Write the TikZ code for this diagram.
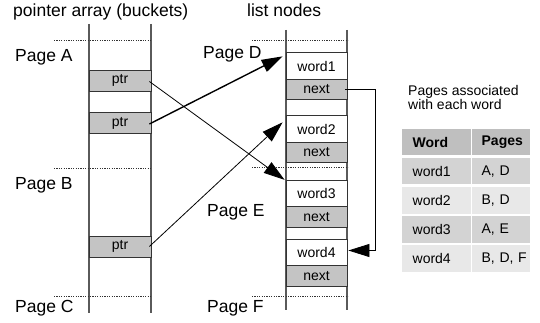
\documentclass[tikz,border=0pt]{standalone}
\usepackage{fontspec}
\setmainfont{Liberation Sans}
\usetikzlibrary{arrows.meta,calc}

\definecolor{colline}{HTML}{5A5A5A}
\definecolor{boxline}{HTML}{333333}
\definecolor{boxfill}{HTML}{C4C4C4}
\definecolor{hdrfill}{HTML}{BFBFBF}
\definecolor{rowdark}{HTML}{D3D3D3}
\definecolor{rowlight}{HTML}{E8E8E8}

\begin{document}
\begin{tikzpicture}[x=1pt,y=-1pt,
  bigtext/.style={font=\fontsize{17.5}{20}\selectfont, inner sep=0pt, anchor=base west},
  smalltext/.style={font=\fontsize{14}{16}\selectfont},
  column/.style={draw=colline, line width=1.1pt},
  pageline/.style={draw=black!80, line width=0.8pt, dash pattern=on 1.2pt off 1.2pt},
  slot/.style={draw=boxline, line width=0.8pt, smalltext, inner sep=0pt, minimum width=#1},
  ptrbox/.style={slot=62pt, fill=boxfill, minimum height=21pt},
  wordbox/.style={slot=61pt, fill=white, minimum height=26.5pt},
  nextbox/.style={slot=61pt, fill=boxfill, minimum height=20.5pt},
  bigtip/.style={-{Triangle[length=21pt,width=13pt]}},
  link/.style={bigtip, draw=black, line width=0.8pt},
  boldlink/.style={bigtip, draw=black, line width=1.4pt},
  cell/.style={draw=white, line width=1.3pt, smalltext, anchor=north west,
    minimum height=27.8pt, align=left, inner ysep=0pt},
  colA/.style={cell, minimum width=70pt, text width=48pt, inner xsep=11pt},
  colB/.style={cell, minimum width=59pt, text width=39pt, inner xsep=10pt}
]
\useasboundingbox (0,0) rectangle (540,323);

% column headings
\node[bigtext] (hptr) at (13,16.5) {pointer array (buckets)};
\node[bigtext] (hlist) at (247,16.5) {list nodes};

% column borders
\coordinate (la) at (89,24);  \coordinate (lb) at (89,313);
\coordinate (ra) at (151,24); \coordinate (rb) at (151,313);
\coordinate (lc) at (286,30); \coordinate (ld) at (286,310);
\coordinate (rc) at (347,30); \coordinate (rd) at (347,310);
\draw[column] (la) -- (lb);
\draw[column] (ra) -- (rb);
\draw[column] (lc) -- (ld);
\draw[column] (rc) -- (rd);

% page boundaries
\foreach \yy in {40,168,296}{
  \draw[pageline] (54,\yy) -- (151,\yy);
}
\foreach \yy in {40,167,296}{
  \draw[pageline] (252,\yy) -- (348,\yy);
}
\node[bigtext] (pA) at (15,61.7) {Page A};
\node[bigtext] (pB) at (15,189) {Page B};
\node[bigtext] (pC) at (15,312.5) {Page C};
\node[bigtext] (pD) at (203,58.3) {Page D};
\node[bigtext] (pE) at (207,216) {Page E};
\node[bigtext] (pF) at (207,312.5) {Page F};

% bucket pointers
\node[ptrbox] (p1) at (120,80.5) {ptr};
\node[ptrbox] (p2) at (120,123) {ptr};
\node[ptrbox] (p3) at (120,246.5) {ptr};

% list nodes
\node[wordbox] (w1) at (316.5,66) {word1};
\node[nextbox] (n1) at (316.5,89.3) {next};
\node[wordbox] (w2) at (316.5,129) {word2};
\node[nextbox] (n2) at (316.5,152.5) {next};
\node[wordbox] (w3) at (316.5,193.5) {word3};
\node[nextbox] (n3) at (316.5,217) {next};
\node[wordbox] (w4) at (316.5,252.5) {word4};
\node[nextbox] (n4) at (316.5,276) {next};

% pointers into the lists
\draw[link] ($(p1.east)+(-2,1)$) -- ($(w3.north west)+(-1,0)$);
\draw[boldlink] ($(p2.east)+(-2,1)$) -- ($(w1.north west)+(-3,4)$);
\draw[link] ($(p3.east)+(-2,0)$) -- ($(w2.north west)+(-3,7)$);

% chain from word1 to word4
\coordinate (turn) at (375,0);
\draw[link] ($(n1.east)+(-2,0)$) -- (n1.east -| turn) -- ($(turn |- w4.east)+(0,-2)$) -- ($(w4.east)+(1,-2)$);

% table of pages per word
\node[font=\fontsize{14}{14.5}\selectfont, anchor=base west, align=left, inner sep=0pt] (cap) at (408,110)
  {Pages associated\\with each word};
\node[colA, fill=hdrfill, font=\fontsize{14}{16}\selectfont\bfseries] (t0a) at (401,127.5) {Word};
\node[colB, fill=hdrfill, font=\fontsize{14}{16}\selectfont\bfseries] (t0b) at (471,127.5) {Pages};
\node[colA, fill=rowdark]  (t1a) at (t0a.south west) {word1};
\node[colB, fill=rowdark]  (t1b) at (t0b.south west) {A, D};
\node[colA, fill=rowlight] (t2a) at (t1a.south west) {word2};
\node[colB, fill=rowlight] (t2b) at (t1b.south west) {B, D};
\node[colA, fill=rowdark]  (t3a) at (t2a.south west) {word3};
\node[colB, fill=rowdark]  (t3b) at (t2b.south west) {A, E};
\node[colA, fill=rowlight] (t4a) at (t3a.south west) {word4};
\node[colB, fill=rowlight] (t4b) at (t3b.south west) {\mbox{B, D, F}};
\end{tikzpicture}
\end{document}
